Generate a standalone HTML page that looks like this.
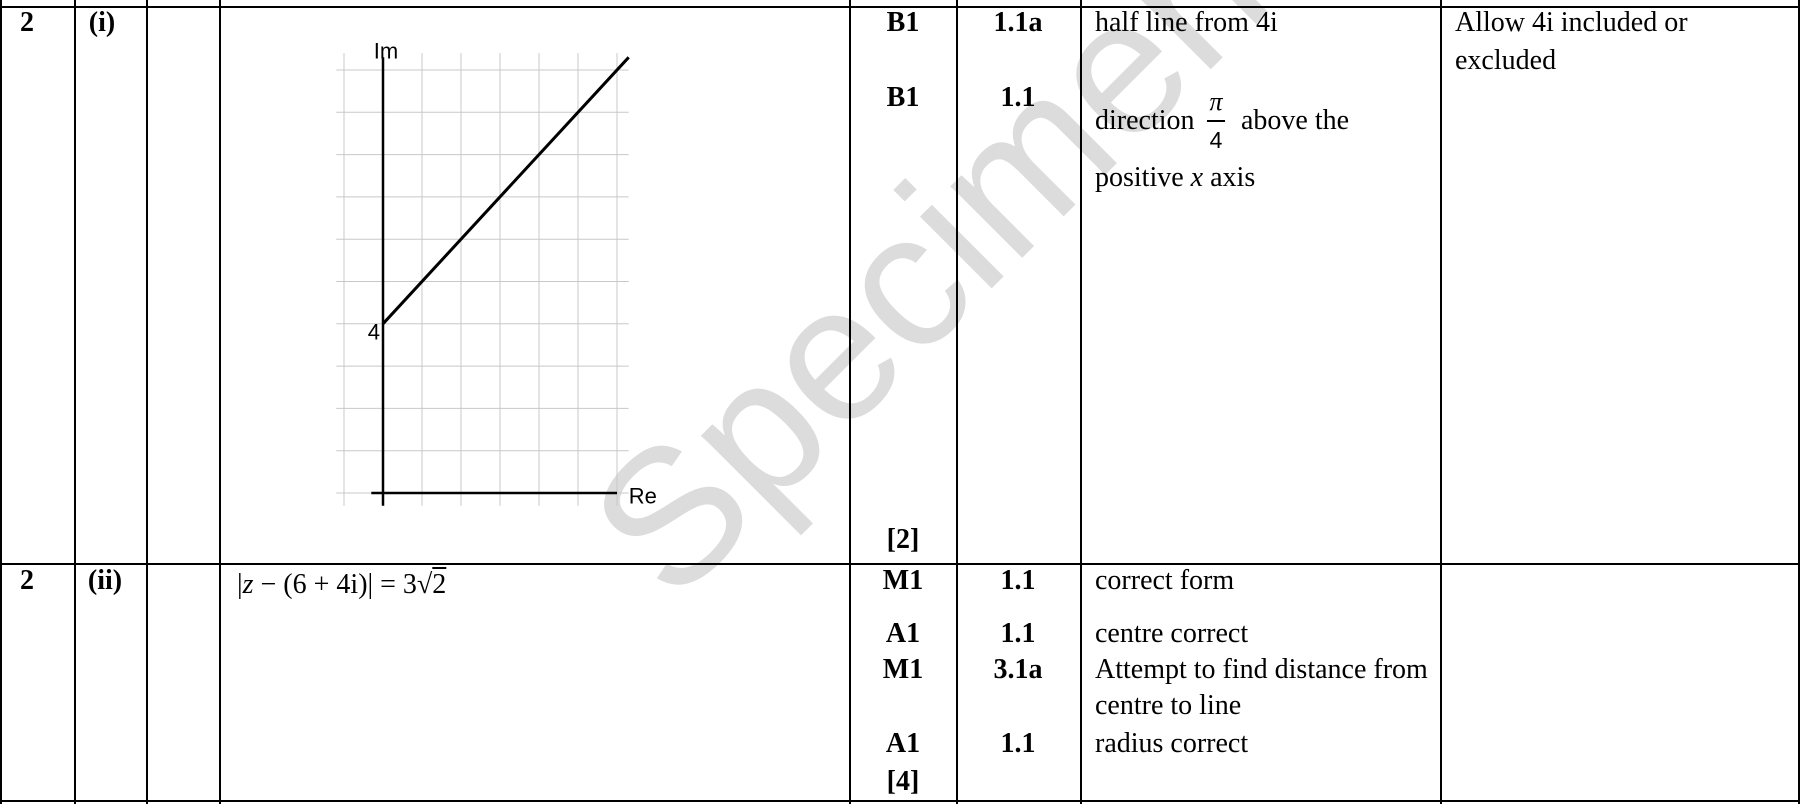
<!DOCTYPE html>
<html><head><meta charset="utf-8"><style>
html,body{margin:0;padding:0;background:#fff;}
#root{position:relative;width:1800px;height:804px;overflow:hidden;font-family:"Liberation Serif",serif;color:#000;}
.t{position:absolute;font-size:28px;line-height:30px;white-space:nowrap;transform:translateY(-50%);}
.b{font-weight:bold;}
.c{transform:translate(-50%,-50%);}
.v{position:absolute;top:0;width:2px;background:#000;height:804px;}
.h{position:absolute;left:0;height:2px;background:#000;width:1800px;}
#wm{position:absolute;left:928px;top:258px;transform:translate(-50%,-50%) rotate(-45deg);font-family:"Liberation Sans",sans-serif;font-size:192px;color:#dcdcdc;white-space:nowrap;}
</style></head><body>
<div id="root">
<div id="wm">Specimen</div>
<svg id="chart" width="1800" height="804" style="position:absolute;left:0;top:0"></svg>

<div class="h" style="top:6px"></div>
<div class="h" style="top:563px"></div>
<div class="h" style="top:800px"></div>
<div class="v" style="left:0"></div>
<div class="v" style="left:74px"></div>
<div class="v" style="left:146px"></div>
<div class="v" style="left:219px"></div>
<div class="v" style="left:849px"></div>
<div class="v" style="left:956px"></div>
<div class="v" style="left:1080px"></div>
<div class="v" style="left:1440px"></div>
<div class="v" style="left:1798px"></div>

<div class="t b c" style="left:27px;top:23px">2</div>
<div class="t b c" style="left:102px;top:23px">(i)</div>
<div class="t b c" style="left:903px;top:23px">B1</div>
<div class="t b c" style="left:1018px;top:23px">1.1a</div>
<div class="t" style="left:1095px;top:23px">half line from 4i</div>
<div class="t" style="left:1455px;top:23px">Allow 4i included or</div>
<div class="t" style="left:1455px;top:61px">excluded</div>
<div class="t b c" style="left:903px;top:98px">B1</div>
<div class="t b c" style="left:1018px;top:98px">1.1</div>
<div class="t" style="left:1095px;top:121px">direction</div>
<div class="t c" style="left:1216px;top:102px;font-style:italic;font-size:26px">π</div>
<div style="position:absolute;left:1207px;top:120px;width:18px;height:1.5px;background:#000"></div>
<div class="t c" style="left:1216px;top:140px;font-family:'Liberation Sans',sans-serif;font-size:23px">4</div>
<div class="t" style="left:1241px;top:121px">above the</div>
<div class="t" style="left:1095px;top:178px">positive <i>x</i> axis</div>
<div class="t b c" style="left:903px;top:540px">[2]</div>

<div class="t b c" style="left:27px;top:581px">2</div>
<div class="t b c" style="left:105px;top:581px">(ii)</div>
<div class="t" style="left:237px;top:585px">|<i>z</i> − (6 + 4i)| = 3√<span style="text-decoration:overline">2</span></div>
<div class="t b c" style="left:903px;top:581px">M1</div>
<div class="t b c" style="left:1018px;top:581px">1.1</div>
<div class="t" style="left:1095px;top:581px">correct form</div>
<div class="t b c" style="left:903px;top:634px">A1</div>
<div class="t b c" style="left:1018px;top:634px">1.1</div>
<div class="t" style="left:1095px;top:634px">centre correct</div>
<div class="t b c" style="left:903px;top:670px">M1</div>
<div class="t b c" style="left:1018px;top:670px">3.1a</div>
<div class="t" style="left:1095px;top:670px">Attempt to find distance from</div>
<div class="t" style="left:1095px;top:706px">centre to line</div>
<div class="t b c" style="left:903px;top:744px">A1</div>
<div class="t b c" style="left:1018px;top:744px">1.1</div>
<div class="t" style="left:1095px;top:744px">radius correct</div>
<div class="t b c" style="left:903px;top:782px">[4]</div>
</div>
<script>
const gridXTicks=[-1,0,1,2,3,4,5,6];
const gridYTicks=[0,1,2,3,4,5,6,7,8,9,10];
const lineStart=[0,4];
const lineEnd=[6.3,10.3];
const imLabel=["4"];
const ox=383,oy=493,ux=39,uy=42.3;
const sx=v=>ox+v*ux, sy=v=>oy-v*uy;
const NS="http://www.w3.org/2000/svg";
const svg=document.getElementById('chart');
function mk(t,a){const e=document.createElementNS(NS,t);for(const k in a)e.setAttribute(k,a[k]);svg.appendChild(e);return e;}
for(const x of gridXTicks){
 const e=mk('line',{x1:sx(x),x2:sx(x),y1:sy(10.4),y2:sy(-0.3),stroke:'#c8c8c8','stroke-width':1});
 
 
}
for(const y of gridYTicks){
 const e=mk('line',{x1:sx(-1.2),x2:sx(6.3),y1:sy(y),y2:sy(y),stroke:'#c8c8c8','stroke-width':1});
 
 
}
let a=mk('line',{x1:sx(0),x2:sx(0),y1:sy(10.3),y2:sy(-0.3),stroke:'#000','stroke-width':2.5});


a=mk('line',{x1:sx(-0.3),x2:sx(6),y1:sy(0),y2:sy(0),stroke:'#000','stroke-width':2.5});


a=mk('line',{x1:sx(lineStart[0]),y1:sy(lineStart[1]),x2:sx(lineEnd[0]),y2:sy(lineEnd[1]),stroke:'#000','stroke-width':3});


function txt(s,x,y,anchor,name){const e=mk('text',{x:x,y:y,'font-family':'Liberation Sans, sans-serif','font-size':22,'text-anchor':anchor,'dominant-baseline':'central'});e.textContent=s;
 
 }
txt("Im",sx(0)+3,51,'middle','im-axis-label');
txt(imLabel[0],sx(0)-3,sy(lineStart[1])+8,'end','im-tick-4');
txt("Re",sx(6.3),sy(0)+3,'start','re-axis-label');
</script>
</body></html>
